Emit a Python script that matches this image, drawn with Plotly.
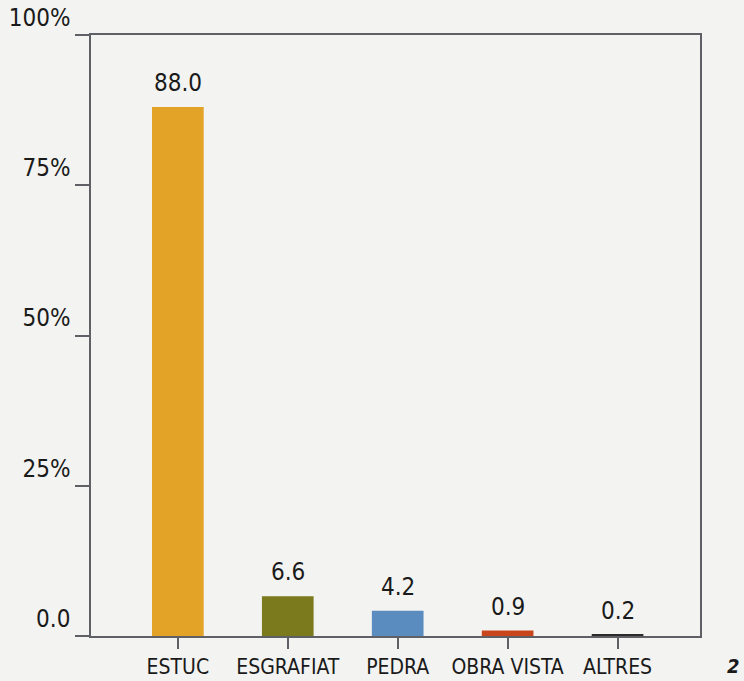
import plotly.graph_objects as go

# Dades del grafic
categories = ["ESTUC", "ESGRAFIAT", "PEDRA", "OBRA VISTA", "ALTRES"]
values = [88.0, 6.6, 4.2, 0.9, 0.2]
bar_colors = ["#E2A326", "#7B7A1C", "#5A8CC0", "#C9461C", "#2B2B2B"]
y_tickvals = [0, 25, 50, 75, 100]
y_ticktext = ["0.0", "25%", "50%", "75%", "100%"]

FONT = "DejaVu Sans Condensed, Liberation Sans Narrow, Arial Narrow, sans-serif"
FRAME = "#5f5f66"

fig = go.Figure()

fig.add_trace(go.Bar(
    x=categories,
    y=values,
    marker=dict(color=bar_colors, line=dict(width=0)),
    width=0.47,
    hoverinfo="skip",
))

# Etiquetes de valor sobre les barres
annotations = [
    dict(x=c, y=v, text=f"{v:.1f}", showarrow=False, yanchor="bottom",
         yshift=8, font=dict(size=24, color="#1a1a1a", family=FONT))
    for c, v in zip(categories, values)
]

# numero de pagina retallat (cantonada inferior dreta)
annotations.append(dict(
    xref="paper", yref="paper", x=(742 - 91) / 609, y=-0.05,
    text="<b><i>2</i></b>",
    showarrow=False, xanchor="right", yanchor="middle",
    font=dict(size=20, color="#1a1a1a", family=FONT),
))

fig.update_layout(
    width=744, height=681,
    paper_bgcolor="#f3f3f1", plot_bgcolor="#f3f3f1",
    margin=dict(l=91, r=44, t=35, b=45),
    showlegend=False,
    annotations=annotations,
    xaxis=dict(
        range=[-0.79, 4.75],
        automargin=False,
        showline=True, linecolor=FRAME, linewidth=1.5, mirror=True,
        ticks="outside", ticklen=11, tickcolor=FRAME, tickwidth=1.5,
        tickfont=dict(size=21, color="#1a1a1a", family=FONT),
        showgrid=False, zeroline=False,
    ),
    yaxis=dict(
        range=[0, 100],
        automargin=False,
        tickvals=y_tickvals, ticktext=y_ticktext,
        ticklabelposition="outside top",
        showline=True, linecolor=FRAME, linewidth=1.5, mirror=True,
        ticks="outside", ticklen=14, tickcolor=FRAME, tickwidth=1.5,
        ticklabelstandoff=14,
        tickfont=dict(size=24, color="#1a1a1a", family=FONT),
        showgrid=False, zeroline=False,
    ),
)

# treure el marge per defecte del body perque la figura ompli la finestra
fig.write_html("out.html", config={"displayModeBar": False},
               post_script="document.body.style.margin = '0';")
